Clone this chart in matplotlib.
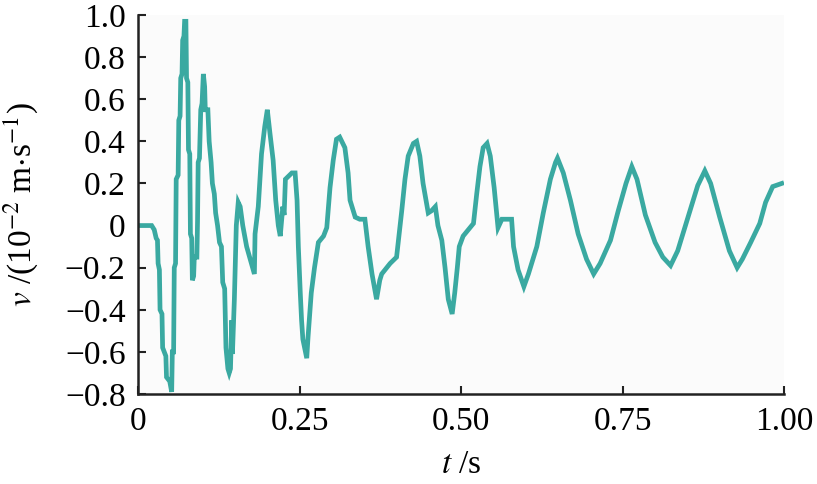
import matplotlib
matplotlib.use("Agg")
import matplotlib.pyplot as plt

# traced velocity signal (t in s, v in 1e-2 m/s)
T = [0.000, 0.021, 0.025, 0.028, 0.030, 0.031, 0.033, 0.034, 0.037, 0.038,
     0.043, 0.044, 0.049, 0.052, 0.053, 0.055, 0.056, 0.058, 0.059, 0.062,
     0.063, 0.065, 0.066, 0.068, 0.069, 0.071, 0.072, 0.074, 0.075, 0.077,
     0.078, 0.080, 0.081, 0.083, 0.084, 0.086, 0.087, 0.091, 0.092, 0.093,
     0.095, 0.097, 0.099, 0.101, 0.103, 0.104, 0.108, 0.110, 0.113, 0.115,
     0.118, 0.120, 0.123, 0.126, 0.129, 0.131, 0.134, 0.136, 0.139, 0.141,
     0.143, 0.145, 0.146, 0.149, 0.152, 0.155, 0.158, 0.162, 0.168, 0.180,
     0.181, 0.186, 0.191, 0.196, 0.200, 0.204, 0.209, 0.213, 0.217, 0.220,
     0.224, 0.226, 0.228, 0.238, 0.243, 0.246, 0.248, 0.251, 0.253, 0.255,
     0.261, 0.263, 0.268, 0.273, 0.279, 0.287, 0.292, 0.297, 0.302, 0.307,
     0.312, 0.320, 0.325, 0.328, 0.336, 0.343, 0.351, 0.356, 0.362, 0.369,
     0.374, 0.377, 0.390, 0.400, 0.408, 0.413, 0.418, 0.426, 0.431, 0.436,
     0.441, 0.449, 0.454, 0.460, 0.464, 0.470, 0.475, 0.480, 0.486, 0.490,
     0.494, 0.497, 0.503, 0.511, 0.519, 0.524, 0.529, 0.534, 0.540, 0.545,
     0.551, 0.557, 0.563, 0.570, 0.578, 0.581, 0.588, 0.597, 0.604, 0.617,
     0.627, 0.638, 0.646, 0.649, 0.658, 0.669, 0.681, 0.694, 0.705, 0.715,
     0.731, 0.743, 0.755, 0.764, 0.772, 0.785, 0.800, 0.812, 0.824, 0.835,
     0.850, 0.866, 0.877, 0.886, 0.900, 0.915, 0.927, 0.935, 0.948, 0.962,
     0.971, 0.982, 0.996]
V = [0.00, 0.00, -0.02, -0.06, -0.07, -0.18, -0.21, -0.40, -0.42, -0.58,
     -0.62, -0.72, -0.74, -0.79, -0.60, -0.60, -0.20, -0.18, 0.22, 0.24,
     0.50, 0.52, 0.70, 0.72, 0.88, 0.90, 0.97, 0.97, 0.70, 0.68,
     0.36, 0.34, -0.04, -0.06, -0.26, -0.24, -0.15, -0.15, 0.02, 0.30,
     0.32, 0.55, 0.58, 0.72, 0.66, 0.55, 0.55, 0.40, 0.30, 0.20,
     0.15, 0.06, 0.00, -0.08, -0.10, -0.27, -0.30, -0.58, -0.68, -0.70,
     -0.68, -0.45, -0.61, -0.35, 0.00, 0.11, 0.09, 0.00, -0.10, -0.23,
     -0.04, 0.09, 0.34, 0.47, 0.55, 0.44, 0.31, 0.12, 0.00, -0.05,
     0.09, 0.05, 0.22, 0.25, 0.25, 0.12, -0.10, -0.32, -0.45, -0.54,
     -0.63, -0.53, -0.32, -0.20, -0.08, -0.05, -0.01, 0.18, 0.31, 0.41,
     0.42, 0.37, 0.25, 0.12, 0.04, 0.03, 0.03, -0.10, -0.23, -0.35,
     -0.26, -0.23, -0.18, -0.15, 0.07, 0.22, 0.33, 0.39, 0.40, 0.33,
     0.20, 0.06, 0.07, 0.09, 0.00, -0.07, -0.20, -0.35, -0.42, -0.32,
     -0.20, -0.10, -0.05, -0.02, 0.01, 0.15, 0.28, 0.37, 0.39, 0.33,
     0.18, -0.01, 0.03, 0.03, 0.03, -0.10, -0.21, -0.29, -0.23, -0.10,
     0.06, 0.22, 0.30, 0.32, 0.25, 0.12, -0.04, -0.16, -0.23, -0.18,
     -0.07, 0.07, 0.20, 0.28, 0.22, 0.05, -0.08, -0.15, -0.19, -0.12,
     0.03, 0.19, 0.26, 0.20, 0.04, -0.12, -0.20, -0.16, -0.08, 0.01,
     0.11, 0.185, 0.20]

XTICKS = [0, 0.25, 0.50, 0.75, 1.00]
XLABELS = ["0", "0.25", "0.50", "0.75", "1.00"]
YTICKS = [-0.8, -0.6, -0.4, -0.2, 0, 0.2, 0.4, 0.6, 0.8, 1.0]
YLABELS = ["\u22120.8", "\u22120.6", "\u22120.4", "\u22120.2", "0",
           "0.2", "0.4", "0.6", "0.8", "1.0"]

plt.rcParams["font.family"] = ["Liberation Serif", "DejaVu Serif"]
plt.rcParams["mathtext.fontset"] = "stix"

fig = plt.figure(figsize=(8.17, 4.84), dpi=100)
ax = fig.add_axes([0.169, 0.186, 0.791, 0.783])
ax.set_facecolor("#fbfbfb")

ax.plot(T, V, color="#3aa9a1", lw=3.4, solid_joinstyle="miter")

ax.set_xlim(0, 1.0)
ax.set_ylim(-0.8, 1.0)
ax.set_xticks(XTICKS)
ax.set_xticklabels(XLABELS)
ax.set_yticks(YTICKS)
ax.set_yticklabels(YLABELS)

for s in ("top", "right"):
    ax.spines[s].set_visible(False)
for s in ("left", "bottom"):
    ax.spines[s].set_linewidth(1.8)
    ax.spines[s].set_color("#222222")
ax.tick_params(direction="in", length=6, width=1.5, color="#222222",
               labelsize=24, pad=9)

ax.set_xlabel(r"$t$ /s", fontsize=24, labelpad=9)
ax.set_ylabel(r"$v$ /(10$^{-2}$ m$\cdot$s$^{-1}$)", fontsize=24, labelpad=18)

fig.savefig("out.png", dpi=100)
